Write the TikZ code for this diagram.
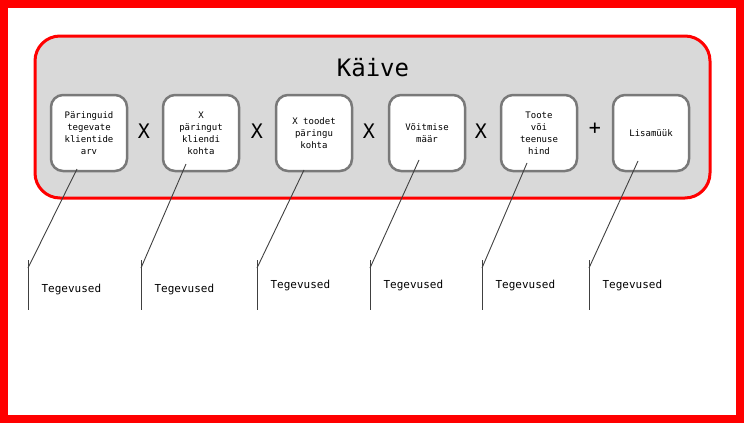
\documentclass[tikz,border=0pt]{standalone}
\usepackage{fontspec}
\setmainfont{DejaVu Sans Mono}
\begin{document}
\begin{tikzpicture}[x=1pt,y=-1pt,
  box/.style={draw=gray!95!black,line width=2.5pt,fill=white,rounded corners=12pt,minimum width=76pt,minimum height=76pt,align=center,font=\fontsize{9}{12}\selectfont,inner sep=2pt},
  op/.style={font=\fontsize{20}{20}\selectfont},
  lbl/.style={font=\fontsize{11}{13}\selectfont,anchor=west},
  ln/.style={draw=black!75,line width=0.9pt}]
\useasboundingbox (0,0) rectangle (744,423);
\draw[red,line width=8pt] (4,4) rectangle (740,419);
\draw[red,line width=3pt,fill=black!15,rounded corners=25pt] (35,36) rectangle (710,198);
\node[font=\fontsize{24}{24}\selectfont] (t) at (373,68) {Käive};
\node[box] (b1) at (89,133) {Päringuid\\tegevate\\klientide\\arv};
\node[box] (b2) at (201,133) {X\\päringut\\kliendi\\kohta};
\node[box] (b3) at (314,133) {X toodet\\päringu\\kohta};
\node[box] (b4) at (427,133) {Võitmise\\määr};
\node[box] (b5) at (539,133) {Toote\\või\\teenuse\\hind};
\node[box] (b6) at (651,133) {Lisamüük};
\node[op] (o1) at (144,131) {X};
\node[op] (o2) at (257,131) {X};
\node[op] (o3) at (369,131) {X};
\node[op] (o4) at (481,131) {X};
\node[op] (o5) at (595,129) {+};
\foreach \i/\a/\b/\x/\ty in {1/77/169/28/289,2/186/164/141/289,3/304/170/257/285,4/419/160/370/285,5/527/163/482/285,6/638/161/589/285}{
  \coordinate (p\i) at (\a,\b);
  \coordinate (q\i) at (\x,268);
  \coordinate (u\i) at (\x,260);
  \coordinate (v\i) at (\x,310);
  \draw[ln] (p\i) -- (q\i);
  \draw[ln] (u\i) -- (v\i);
  \node[lbl] (l\i) at (\x+10,\ty) {Tegevused};
}
\end{tikzpicture}
\end{document}
